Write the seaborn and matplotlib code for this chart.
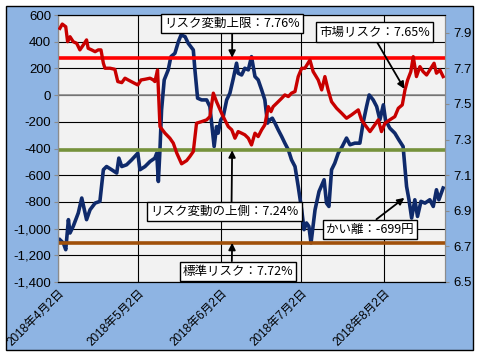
import matplotlib
matplotlib.use("Agg")
import matplotlib.pyplot as plt
from matplotlib.patches import Rectangle
from matplotlib.ticker import FuncFormatter
import seaborn as sns
import pandas as pd
import numpy as np

# day offsets are counted from 2018-04-02
start = pd.Timestamp("2018-04-02")

# market risk (%), right axis
red_days = [0.7, 1.6, 2.9, 3.6, 4.5, 5.7, 7.0, 8.2, 9.5, 10.7, 11.3, 12.6, 13.9, 15.1, 16.1,
            17.0, 17.6, 19.5, 21.3, 22.4, 23.9, 25.1, 26.3, 28.2, 29.9, 31.1, 32.6, 34.5,
            35.7, 36.3, 37.3, 38.2, 40.1, 41.9, 43.2, 44.5, 46.3, 48.2, 49.4, 50.7, 51.9,
            53.8, 55.7, 56.9, 58.2, 59.4, 61.3, 62.5, 63.8, 65.1, 66.3, 67.5, 68.8, 70.0,
            71.3, 72.5, 73.8, 75.0, 76.3, 77.5, 78.8, 79.8, 80.6, 81.9, 83.8, 85.0, 86.3,
            87.5, 88.8, 90.0, 91.3, 92.5, 94.4, 95.6, 97.5, 98.8, 100.0, 101.2, 102.5,
            104.4, 106.3, 108.1, 110.0, 112.5, 113.7, 115.0, 116.9, 118.7, 120.0, 121.2,
            122.5, 124.3, 126.2, 127.5, 129.0, 130.0, 131.0, 132.2, 133.1, 134.3, 135.6,
            136.8, 138.1, 139.3, 140.9, 141.8, 143.1, 144.3]
red_vals = [7.925, 7.949, 7.934, 7.850, 7.878, 7.850, 7.841, 7.804, 7.832, 7.860, 7.813,
            7.804, 7.794, 7.804, 7.804, 7.729, 7.701, 7.701, 7.695, 7.626, 7.620, 7.645,
            7.635, 7.620, 7.607, 7.635, 7.639, 7.645, 7.635, 7.626, 7.691, 7.373, 7.336,
            7.308, 7.280, 7.224, 7.164, 7.182, 7.205, 7.233, 7.392, 7.401, 7.411, 7.429,
            7.561, 7.513, 7.448, 7.411, 7.373, 7.355, 7.308, 7.345, 7.336, 7.327, 7.308,
            7.270, 7.336, 7.317, 7.355, 7.383, 7.485, 7.457, 7.485, 7.504, 7.532, 7.551,
            7.542, 7.561, 7.570, 7.654, 7.701, 7.701, 7.747, 7.682, 7.635, 7.579, 7.654,
            7.579, 7.513, 7.476, 7.448, 7.420, 7.439, 7.467, 7.411, 7.383, 7.345, 7.383,
            7.411, 7.345, 7.392, 7.411, 7.429, 7.476, 7.495, 7.579, 7.635, 7.682, 7.766,
            7.654, 7.710, 7.682, 7.663, 7.691, 7.729, 7.673, 7.691, 7.654]

# deviation (yen), left axis
blue_days = [0.7, 2.0, 2.9, 3.9, 4.5, 5.7, 7.6, 8.9, 10.7, 12.0, 13.9, 15.7, 17.0, 18.2,
             20.1, 22.0, 22.8, 23.9, 25.7, 27.6, 29.9, 30.7, 32.6, 34.5, 36.3, 37.0, 37.6,
             38.2, 38.8, 39.8, 41.3, 42.3, 43.8, 45.1, 46.1, 47.6, 48.8, 50.7, 51.3, 52.3,
             53.8, 55.7, 56.9, 58.5, 59.4, 60.0, 61.0, 61.9, 63.2, 64.4, 65.7, 66.9, 67.5,
             68.8, 70.0, 71.3, 72.5, 73.8, 75.0, 76.3, 77.5, 78.5, 79.4, 80.3, 81.3, 82.5,
             83.8, 85.0, 86.3, 87.5, 88.8, 90.0, 91.3, 92.2, 93.1, 94.0, 94.8, 96.3, 97.8,
             99.7, 100.6, 101.5, 102.5, 103.7, 105.0, 106.5, 108.1, 109.4, 111.2, 113.1,
             114.3, 115.6, 116.6, 118.1, 119.4, 120.6, 121.9, 122.7, 124.3, 126.2, 127.7,
             129.3, 130.6, 131.5, 132.5, 133.7, 134.7, 136.0, 137.5, 139.3, 140.6, 141.8,
             142.7, 144.3]
blue_vals = [-1083, -1108, -1158, -933, -1033, -983, -883, -771, -933, -859, -809, -796,
             -559, -535, -559, -584, -472, -535, -522, -485, -435, -559, -535, -497, -472,
             -435, -647, -410, -111, 114, 189, 288, 313, 400, 450, 438, 388, 338, 189, -23,
             -36, -36, -86, -385, -236, -285, -185, -161, -36, 14, 126, 239, 164, 151, 201,
             189, 288, 139, 114, 39, -36, -210, -185, -173, -210, -260, -310, -360, -410,
             -485, -535, -684, -859, -1008, -958, -983, -1108, -860, -722, -634, -809, -834,
             -559, -510, -435, -385, -322, -372, -360, -360, -210, -86, 1, -36, -86, -185,
             -73, -185, -247, -285, -335, -385, -684, -784, -921, -784, -909, -796, -809,
             -784, -834, -709, -784, -696]

# reference levels (right axis)
upper_limit = 7.76
upper_side = 7.24
standard = 6.72

tick_dates = ["2018-04-02", "2018-05-02", "2018-06-02", "2018-07-02", "2018-08-02"]
tick_labels = ["2018年4月2日", "2018年5月2日", "2018年6月2日", "2018年7月2日", "2018年8月2日"]

plt.rcParams["font.family"] = ["Liberation Sans", "Noto Sans CJK JP", "DejaVu Sans"]
jp = ["Noto Sans CJK JP", "DejaVu Sans"]

red = pd.DataFrame({"date": start + pd.to_timedelta(red_days, unit="D"), "value": red_vals})
blue = pd.DataFrame({"date": start + pd.to_timedelta(blue_days, unit="D"), "value": blue_vals})

fig = plt.figure(figsize=(4.8, 3.6), dpi=100)
fig.patch.set_facecolor("white")
fig.patches.append(Rectangle((6 / 480, 10 / 360), 467 / 480, 344 / 360, transform=fig.transFigure,
                             facecolor="#8EB4E3", edgecolor="black", linewidth=1, zorder=-5))

ax = fig.add_axes([58 / 480, 78 / 360, 387 / 480, 267 / 360])
ax.set_facecolor("#F2F2F2")
ax2 = ax.twinx()

sns.lineplot(data=blue, x="date", y="value", ax=ax, color="#0F2A6B", linewidth=2.6, zorder=3)
sns.lineplot(data=red, x="date", y="value", ax=ax2, color="#C80000", linewidth=2.4, zorder=3)

ax2.axhline(upper_limit, color="#FF0000", linewidth=2.6, zorder=2)
ax2.axhline(upper_side, color="#76923C", linewidth=2.6, zorder=2)
ax2.axhline(standard, color="#A0500A", linewidth=2.6, zorder=2)
ax.axhline(0, color="#8C8C8C", linewidth=1.2, zorder=1)

ax.set_ylim(-1400, 600)
ax.set_yticks(np.arange(-1400, 601, 200))
ax.yaxis.set_major_formatter(FuncFormatter(lambda v, p: f"{v:,.0f}"))
ax2.set_ylim(6.5, 8.0)
ax2.set_yticks(np.arange(6.5, 7.95, 0.2))
ax2.yaxis.set_major_formatter(FuncFormatter(lambda v, p: f"{v:.1f}"))

ax.set_xlim(start, start + pd.Timedelta(days=145))
ax.set_xticks(pd.to_datetime(tick_dates))
ax.set_xticklabels(tick_labels, rotation=45, ha="right", rotation_mode="anchor", fontsize=8.5)

ax.grid(True, color="black", linewidth=0.8, zorder=0)
ax.set_axisbelow(True)
for a in (ax, ax2):
    a.set_xlabel("")
    a.set_ylabel("")
    for s in ("left", "right"):
        a.spines[s].set_color("#8C8C8C")
    for s in ("top", "bottom"):
        a.spines[s].set_color("black")
ax.tick_params(axis="y", labelsize=9.5, length=3, color="#8C8C8C", pad=2)
ax2.tick_params(axis="y", labelsize=9.5, length=3, color="#8C8C8C", pad=3)
ax.tick_params(axis="x", length=0, pad=4)

box = dict(boxstyle="square,pad=0.25", facecolor="white", edgecolor="black", linewidth=1)
arrow = dict(arrowstyle="-|>", color="black", linewidth=1.3, mutation_scale=10, shrinkA=0, shrinkB=0)

ax2.annotate("リスク変動上限：7.76%", xy=(0.450, upper_limit), xycoords=("axes fraction", "data"),
             xytext=(0.450, 0.968), textcoords="axes fraction", ha="center", va="center",
             fontsize=9, family=jp, bbox=box, arrowprops=dict(arrow, relpos=(0.5, 0)), zorder=6)
ax2.annotate("市場リスク：7.65%", xy=(0.895, 7.585), xycoords=("axes fraction", "data"),
             xytext=(0.819, 0.936), textcoords="axes fraction", ha="center", va="center",
             fontsize=9, family=jp, bbox=box, arrowprops=dict(arrow, relpos=(0.5, 0)), zorder=6)
ax2.annotate("リスク変動の上側：7.24%", xy=(0.450, upper_side), xycoords=("axes fraction", "data"),
             xytext=(0.430, 0.263), textcoords="axes fraction", ha="center", va="center",
             fontsize=9, family=jp, bbox=box, arrowprops=dict(arrow, relpos=(0.548, 1)), zorder=6)
ax2.annotate("標準リスク：7.72%", xy=(0.450, standard), xycoords=("axes fraction", "data"),
             xytext=(0.465, 0.040), textcoords="axes fraction", ha="center", va="center",
             fontsize=9, family=jp, bbox=box, arrowprops=dict(arrow, relpos=(0.444, 1)), zorder=6)
ax.annotate("かい離：-699円", xy=(0.895, -770), xycoords=("axes fraction", "data"),
            xytext=(0.807, 0.197), textcoords="axes fraction", ha="center", va="center",
            fontsize=9, family=jp, bbox=box, arrowprops=dict(arrow, relpos=(0.516, 1)), zorder=6)

fig.savefig("out.png", dpi=100)
